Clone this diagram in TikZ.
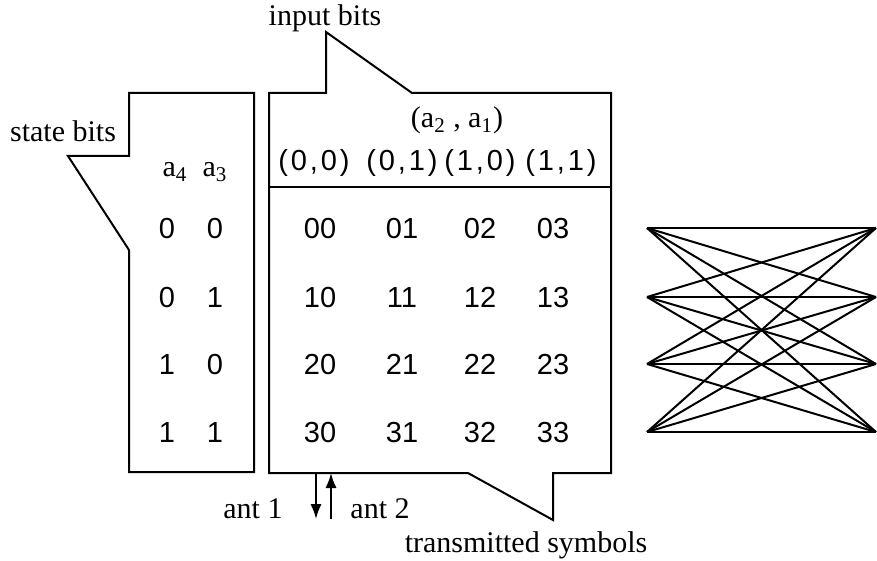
\documentclass[tikz,border=0pt]{standalone}
\usepackage{fontspec}
\setmainfont{Liberation Serif}
\setsansfont{Liberation Sans}
\usetikzlibrary{arrows.meta}

\begin{document}
\begin{tikzpicture}[x=0.5pt, y=-0.5pt, line width=1pt,
    lbl/.style = {inner sep=0pt, anchor=base, font=\fontsize{15}{18}\selectfont},
    num/.style = {inner sep=0pt, text height=10.4pt, text depth=0pt,
                  font=\sffamily\fontsize{14.5}{17}\selectfont},
    pairs/.style = {num, text height=10.4pt, text depth=3pt,
                    font=\sffamily\fontsize{14.5}{17}\selectfont\addfontfeature{LetterSpace=10}}]
            \useasboundingbox (0,0) rectangle (877,561);

            % callout boxes
            \draw (129,93) -- (254,93) -- (254,472) -- (129,472) -- (129,250)
                  -- (68,156) -- (129,156) -- cycle;
            \draw (269,93) -- (326,93) -- (326,32) -- (412,93) -- (611,93)
                  -- (611,473) -- (553,473) -- (553,520) -- (468,473)
                  -- (269,473) -- cycle;
            \draw (269,187) -- (611,187);

            \node[lbl] (input) at (325,26) {input bits};
            \node[lbl] (state) at (63,142) {state bits};
            \node[lbl] (trans) at (526,552) {transmitted symbols};
            \node[lbl] (pair) at (457,128) {(a\textsubscript{2} , a\textsubscript{1})};
            \node[lbl] (a4) at (175,177) {a\textsubscript{4}};
            \node[lbl] (a3) at (215,177) {a\textsubscript{3}};

            \node[pairs] (h00) at (314,163) {(0,0)};
            \node[pairs] (h01) at (402,163) {(0,1)};
            \node[pairs] (h10) at (480,163) {(1,0)};
            \node[pairs] (h11) at (561,163) {(1,1)};

            % state table
            \foreach \r/\y/\s/\t in {0/228/0/0, 1/297/0/1, 2/364/1/0, 3/432/1/1} {
                \node[num] (s\r a) at (167,\y) {\s};
                \node[num] (s\r b) at (215,\y) {\t};
                \node[num] (c\r 0) at (320,\y) {\r0};
                \node[num] (c\r 1) at (402,\y) {\r1};
                \node[num] (c\r 2) at (480,\y) {\r2};
                \node[num] (c\r 3) at (553,\y) {\r3};
            }

            % antennas
            \coordinate (t1) at (316,473);
            \coordinate (b1) at (316,519);
            \coordinate (t2) at (331,473);
            \coordinate (b2) at (331,519);
            \draw[-Latex] (t1) -- (b1);
            \draw[-Latex] (b2) -- (t2);
            \node[lbl] (ant1) at (253,518) {ant 1};
            \node[lbl] (ant2) at (380,518) {ant 2};

            % trellis
            \foreach \i/\y in {1/228, 2/297, 3/364, 4/432} {
                \coordinate (l\i) at (647,\y);
                \coordinate (r\i) at (876,\y);
            }
            \foreach \i in {1,...,4}
                \foreach \j in {1,...,4}
                    \draw (l\i) -- (r\j);
        \end{tikzpicture}
\end{document}
